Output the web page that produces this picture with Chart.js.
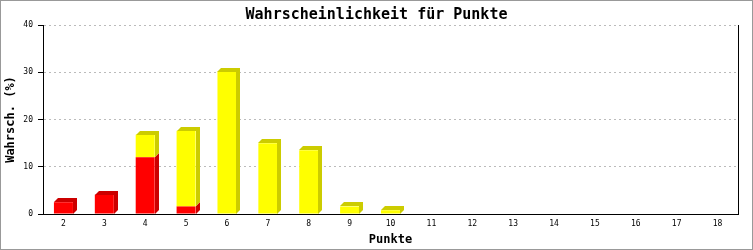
<!DOCTYPE html>
<html>
<head>
<meta charset="utf-8">
<script src="https://cdn.jsdelivr.net/npm/chart.js@4/dist/chart.umd.min.js"></script>
<style>
  html, body { margin: 0; padding: 0; background: #fff; }
  #wrap { width: 753px; height: 250px; }
</style>
</head>
<body>
<div id="wrap"><canvas id="chart" width="753" height="250"></canvas></div>
<script>
var punkte = ['2', '3', '4', '5', '6', '7', '8', '9', '10', '11', '12', '13', '14', '15', '16', '17', '18'];
var rot =  [2.5, 4.1, 12.0, 1.6, 0, 0, 0, 0, 0, 0, 0, 0, 0, 0, 0, 0, 0];
var gelb = [0, 0, 4.8, 16.0, 30.1, 15.0, 13.5, 1.6, 0.8, 0, 0, 0, 0, 0, 0, 0, 0];

var mono = '"DejaVu Sans Mono", "Liberation Mono", monospace';
var depth = 4;

// side + top face for the pseudo 3d bars (top face only on the top segment of a stack)
var bar3d = {
    id: 'bar3d',
    afterDatasetsDraw: function (chart) {
        var ctx = chart.ctx;
        var sets = chart.data.datasets;
        ctx.save();
        sets.forEach(function (ds, i) {
            var meta = chart.getDatasetMeta(i);
            ctx.fillStyle = ds.sideColor;
            meta.data.forEach(function (bar, j) {
                var p = bar.getProps(['x', 'y', 'base', 'width'], true);
                if (Math.abs(p.base - p.y) < 0.5) return;
                var above = 0;
                for (var k = i + 1; k < sets.length; k++) above += sets[k].data[j];
                var l = Math.round(p.x - p.width / 2), r = Math.round(p.x + p.width / 2);
                var t = Math.round(Math.min(p.y, p.base)), b = Math.round(Math.max(p.y, p.base));
                ctx.beginPath();
                if (above > 0) {
                    ctx.moveTo(r, t);
                } else {
                    ctx.moveTo(l, t);
                    ctx.lineTo(l + depth, t - depth);
                }
                ctx.lineTo(r + depth, t - depth);
                ctx.lineTo(r + depth, b - depth);
                ctx.lineTo(r, b);
                ctx.lineTo(r, t);
                ctx.closePath();
                ctx.fill();
            });
        });
        ctx.restore();
    }
};

var frame = {
    id: 'frame',
    beforeDraw: function (chart) {
        var ctx = chart.ctx;
        ctx.save();
        ctx.fillStyle = '#fff';
        ctx.fillRect(0, 0, chart.width, chart.height);
        ctx.restore();
    },
    afterDraw: function (chart) {
        var ctx = chart.ctx;
        ctx.save();
        ctx.strokeStyle = '#999';
        ctx.lineWidth = 2;
        ctx.strokeRect(0, 0, chart.width, chart.height);
        ctx.restore();
    }
};

new Chart(document.getElementById('chart'), {
    type: 'bar',
    data: {
        labels: punkte,
        datasets: [
            {
                label: 'rot',
                data: rot,
                backgroundColor: '#ff0000',
                sideColor: '#cc0000',
                barPercentage: 0.465,
                categoryPercentage: 1
            },
            {
                label: 'gelb',
                data: gelb,
                backgroundColor: '#ffff00',
                sideColor: '#cccc00',
                barPercentage: 0.465,
                categoryPercentage: 1
            }
        ]
    },
    plugins: [frame, bar3d],
    options: {
        responsive: false,
        animation: false,
        layout: { padding: 0 },
        plugins: {
            legend: { display: false },
            tooltip: { enabled: false },
            title: {
                display: true,
                text: 'Wahrscheinlichkeit für Punkte',
                color: '#000',
                font: { family: mono, size: 15, weight: 'bold', lineHeight: 1.2 },
                padding: { top: 6, bottom: 1 }
            }
        },
        scales: {
            x: {
                stacked: true,
                grid: { display: false, drawTicks: false },
                border: { display: true, color: '#000', width: 1 },
                ticks: { color: '#000', font: { family: mono, size: 8 }, padding: 5 },
                title: {
                    display: true,
                    text: 'Punkte',
                    color: '#000',
                    font: { family: mono, size: 12, weight: 'bold' },
                    padding: { top: 0, bottom: 3 }
                },
                afterFit: function (scale) { scale.height = 36; }
            },
            y: {
                stacked: true,
                min: 0,
                max: 40,
                ticks: { stepSize: 10, color: '#000', font: { family: mono, size: 8 }, padding: 5 },
                grid: {
                    color: function (c) { return c.tick && c.tick.value === 0 ? 'rgba(0,0,0,0)' : '#bbb'; },
                    tickColor: '#000',
                    tickLength: 5
                },
                border: { display: true, color: '#000', width: 1, dash: [2, 3] },
                title: {
                    display: true,
                    text: 'Wahrsch. (%)',
                    color: '#000',
                    font: { family: mono, size: 12, weight: 'bold' },
                    padding: { top: 4, bottom: 0 }
                },
                afterFit: function (scale) { scale.width = 43; }
            },
            // right frame line of the plot area
            y2: {
                position: 'right',
                min: 0,
                max: 40,
                ticks: { display: false },
                grid: { display: false, drawTicks: false },
                border: { display: true, color: '#000', width: 1 },
                afterFit: function (scale) { scale.width = 15; }
            }
        }
    }
});
</script>
</body>
</html>
